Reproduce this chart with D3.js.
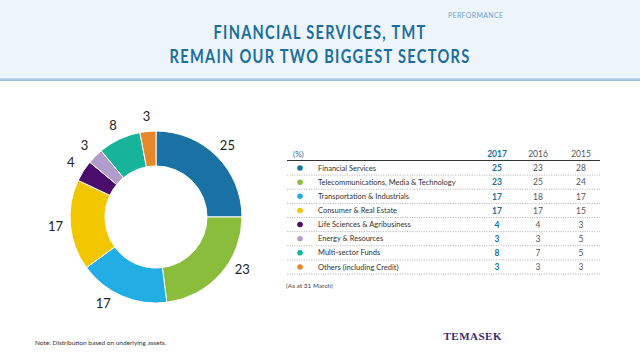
<!DOCTYPE html>
<html><head><meta charset="utf-8">
<script src="https://cdn.jsdelivr.net/npm/d3@7"></script>
<style>
html,body{margin:0;padding:0;background:#fff;}
svg{display:block;font-family:Lato, "Open Sans", sans-serif;}
</style></head>
<body><svg id="c" width="640" height="360"></svg>
<script>
const sectors = ["Financial Services","Telecommunications, Media & Technology","Transportation & Industrials","Consumer & Real Estate","Life Sciences & Agribusiness","Energy & Resources","Multi-sector Funds","Others (including Credit)"];
const v2017 = [25,23,17,17,4,3,8,3];
const v2016 = [23,25,18,17,4,3,7,3];
const v2015 = [28,24,17,15,3,5,5,3];
const years = ["2017","2016","2015"];
const colors = ["#1a72a4","#8abd3c","#22aee4","#f2c700","#4a0d6b","#b09dcb","#17b49a","#e8862a"];

const svg = d3.select("#c");
// header band
const defs = svg.append("defs");
const g1 = defs.append("linearGradient").attr("id","hb").attr("x1",0).attr("x2",0).attr("y1",0).attr("y2",1);
g1.append("stop").attr("offset","0%").attr("stop-color","#c9dff0");
g1.append("stop").attr("offset","100%").attr("stop-color","#8fb8dc");
svg.append("rect").attr("x",0).attr("y",0).attr("width",640).attr("height",79).attr("fill","#edf4fb");
svg.append("rect").attr("x",0).attr("y",78).attr("width",640).attr("height",3).attr("fill","url(#hb)");

svg.append("text").attr("x",448).attr("y",18)
  .attr("font-size",7).attr("fill","#6fa6cc")
  .attr("textLength",55).attr("lengthAdjust","spacing").text("PERFORMANCE");
svg.append("text").attr("x",320).attr("y",39).attr("text-anchor","middle")
  .attr("font-size",18).attr("font-weight",700).attr("letter-spacing",1.6).attr("fill","#1b6e9b")
  .attr("textLength",213).attr("lengthAdjust","spacingAndGlyphs").text("FINANCIAL SERVICES, TMT");
svg.append("text").attr("x",320).attr("y",63).attr("text-anchor","middle")
  .attr("font-size",18).attr("font-weight",700).attr("letter-spacing",1.6).attr("fill","#1b6e9b")
  .attr("textLength",301).attr("lengthAdjust","spacingAndGlyphs").text("REMAIN OUR TWO BIGGEST SECTORS");

// donut
const cx = 156, cy = 217, R = 86, r = 51;
const pie = d3.pie().sort(null).value(d=>d);
const arcs = pie(v2017);
const arc = d3.arc().innerRadius(r).outerRadius(R);
const dg = svg.append("g").attr("transform",`translate(${cx},${cy})`);
dg.selectAll("path").data(arcs).join("path")
  .attr("d",arc).attr("fill",(d,i)=>colors[i]).attr("stroke","#fff").attr("stroke-width",1);
// label placement nudges (degrees), layout only
const labelNudge = [0,-10,8,0,0,0,0,0];
const labelR = 101;
dg.selectAll("text.lbl").data(arcs).join("text").attr("class","lbl")
  .attr("transform",(d,i)=>{
    const a = (d.startAngle + d.endAngle)/2 + labelNudge[i]*Math.PI/180;
    return `translate(${labelR*Math.sin(a)},${-labelR*Math.cos(a)})`;
  })
  .attr("text-anchor","middle").attr("dy","0.35em")
  .attr("font-size",13).attr("fill","#222").text(d=>d.data);

// table
const tx0 = 287, tx1 = 600;
const colX = [497,538,581];
const y = d3.scaleBand().domain(d3.range(sectors.length)).range([161,274]);
const tg = svg.append("g").attr("font-size",7.5);
tg.append("text").attr("x",293).attr("y",157).attr("fill","#1b6e9b").attr("font-size",8).text("(%)");
years.forEach((yr,j)=>{
  tg.append("text").attr("x",colX[j]).attr("y",157).attr("text-anchor","middle")
    .attr("font-size",8.5).attr("font-weight",j===0?700:400)
    .attr("fill",j===0?"#1b6e9b":"#555").text(yr);
});
tg.append("line").attr("x1",tx0).attr("x2",tx1).attr("y1",160.5).attr("y2",160.5).attr("stroke","#333").attr("stroke-width",1);
const rows = tg.selectAll("g.row").data(sectors).join("g").attr("class","row")
  .attr("transform",(d,i)=>`translate(0,${y(i)})`);
const bh = y.bandwidth();
rows.append("circle").attr("cx",300).attr("cy",bh/2).attr("r",2.8).attr("fill",(d,i)=>colors[i]);
rows.append("text").attr("x",318).attr("y",bh/2).attr("dy","0.35em").attr("fill","#333").text(d=>d);
[v2017,v2016,v2015].forEach((arr,j)=>{
  rows.append("text").attr("x",colX[j]).attr("y",bh/2).attr("dy","0.38em").attr("text-anchor","middle")
    .attr("font-size",8.5).attr("font-weight",j===0?700:400).attr("fill",j===0?"#1b6e9b":"#555")
    .text((d,i)=>arr[i]);
});
rows.append("line").attr("x1",tx0).attr("x2",tx1).attr("y1",bh).attr("y2",bh)
  .attr("stroke","#aaa").attr("stroke-width",0.8).attr("stroke-dasharray","1.2,1.2");
tg.append("text").attr("x",286).attr("y",288).attr("font-size",6.5).attr("fill","#444").text("(As at 31 March)");

// footer
svg.append("text").attr("x",35).attr("y",345).attr("font-size",6.5).attr("fill","#333").text("Note: Distribution based on underlying assets.");
svg.append("text").attr("x",502).attr("y",340).attr("text-anchor","end").attr("font-family","'Liberation Serif', serif")
  .attr("font-weight",700).attr("font-size",11).attr("letter-spacing",0.5).attr("fill","#3d2a6e").text("TEMASEK");
</script></body></html>
